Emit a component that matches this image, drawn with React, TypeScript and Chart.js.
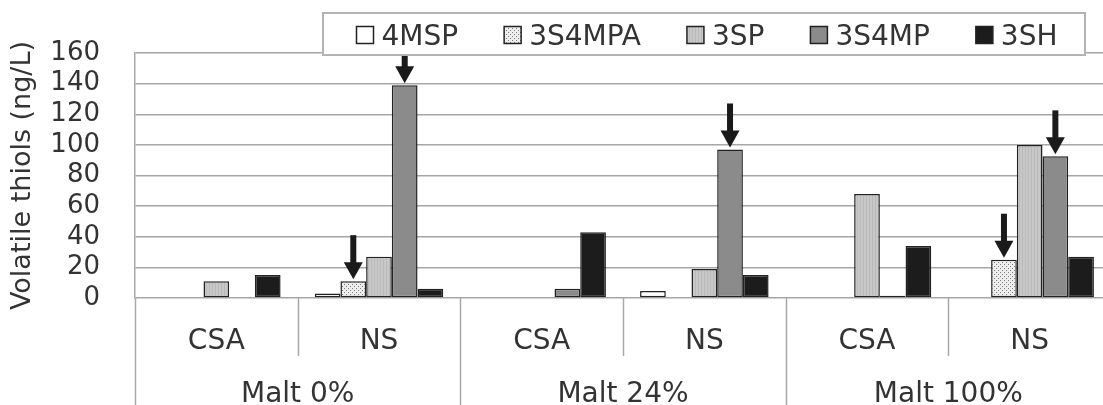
import React, { useEffect, useRef } from 'react';
import { Chart, registerables } from 'chart.js';

Chart.register(...registerables);

// ---- data ----
const categories = ['CSA', 'NS', 'CSA', 'NS', 'CSA', 'NS'];
const groups = ['Malt 0%', 'Malt 24%', 'Malt 100%'];
const seriesNames = ['4MSP', '3S4MPA', '3SP', '3S4MP', '3SH'];
const values4MSP = [0, 3, 0, 4.5, 0, 0];
const values3S4MPA = [0, 11, 0, 0, 0, 25];
const values3SP = [11, 27, 0, 19, 68, 100];
const values3S4MP = [0, 139, 6, 97, 1.5, 92.5];
const values3SH = [15, 6, 43, 15, 34, 27];
const yMin = 0;
const yMax = 160;
const yStep = 20;
const yTitle = 'Volatile thiols (ng/L)';
// arrows: dataset index and category index of the pointed bar
const arrowSeries = [1, 3, 3, 1, 3];
const arrowCategories = [1, 1, 3, 5, 5];

const FONT = '"DejaVu Sans", Verdana, sans-serif';
const TEXT = '#333333';

function makePattern(kind: string): CanvasPattern | string {
  const c = document.createElement('canvas');
  const g = c.getContext('2d');
  if (!g) return '#cccccc';
  if (kind === 'dots') {
    c.width = 4; c.height = 4;
    g.fillStyle = '#eeeeee';
    g.fillRect(0, 0, 4, 4);
    g.fillStyle = '#7a7a7a';
    g.fillRect(0, 0, 1, 1);
    g.fillRect(2, 2, 1, 1);
  } else {
    c.width = 3; c.height = 1;
    g.fillStyle = '#c8c8c8';
    g.fillRect(0, 0, 3, 1);
    g.fillStyle = '#b9b9b9';
    g.fillRect(2, 0, 1, 1);
  }
  return g.createPattern(c, 'repeat') || '#cccccc';
}

export default function App() {
  const ref = useRef<HTMLCanvasElement | null>(null);

  useEffect(() => {
    if (!ref.current) return;
    const fills: (string | CanvasPattern)[] = [
      '#ffffff',
      makePattern('dots'),
      makePattern('lines'),
      '#8b8b8b',
      '#1c1c1c',
    ];
    const seriesValues = [values4MSP, values3S4MPA, values3SP, values3S4MP, values3SH];

    const decor = {
      id: 'decor',
      afterDraw(chart: any) {
        const ctx = chart.ctx as CanvasRenderingContext2D;
        const xs = chart.scales.x;
        const x2 = chart.scales.x2;
        const area = chart.chartArea;
        ctx.save();
        // separators in the category axis area
        const n = categories.length;
        const perGroup = n / groups.length;
        const w = xs.getPixelForValue(1) - xs.getPixelForValue(0);
        const first = xs.getPixelForValue(0) - w / 2;
        ctx.strokeStyle = '#a8a8a8';
        ctx.lineWidth = 1.5;
        for (let i = 0; i <= n; i++) {
          const bx = Math.round(first + i * w) + 0.5;
          const bottom = i % perGroup === 0 ? x2.bottom : xs.bottom;
          ctx.beginPath();
          ctx.moveTo(bx, area.bottom);
          ctx.lineTo(bx, bottom);
          ctx.stroke();
        }
        // arrows
        ctx.fillStyle = '#1a1a1a';
        for (let k = 0; k < arrowSeries.length; k++) {
          const el = chart.getDatasetMeta(arrowSeries[k]).data[arrowCategories[k]];
          const x = el.x;
          const tip = el.y - 2;
          const headH = 17, headW = 19, shaftW = 6, len = 44;
          ctx.fillRect(x - shaftW / 2, tip - len, shaftW, len - headH + 1);
          ctx.beginPath();
          ctx.moveTo(x - headW / 2, tip - headH);
          ctx.lineTo(x + headW / 2, tip - headH);
          ctx.lineTo(x, tip);
          ctx.closePath();
          ctx.fill();
        }
        // legend box
        const boxL = 323, boxR = 1085, boxT = 13, boxB = 55;
        ctx.fillStyle = '#ffffff';
        ctx.fillRect(boxL, boxT, boxR - boxL, boxB - boxT);
        ctx.strokeStyle = '#b4b4b4';
        ctx.lineWidth = 2;
        ctx.strokeRect(boxL, boxT, boxR - boxL, boxB - boxT);
        ctx.font = '28px ' + FONT;
        const sw = 17, gapText = 8, gapItem = 46;
        const widths = seriesNames.map((s) => sw + gapText + ctx.measureText(s).width);
        const total = widths.reduce((a, b) => a + b, 0) + gapItem * (seriesNames.length - 1);
        let cx = (boxL + boxR) / 2 + 3 - total / 2;
        const midY = (boxT + boxB) / 2 + 1;
        for (let i = 0; i < seriesNames.length; i++) {
          ctx.fillStyle = fills[i] as any;
          ctx.fillRect(cx, midY - sw / 2, sw, sw);
          ctx.strokeStyle = '#222222';
          ctx.lineWidth = 1.5;
          ctx.strokeRect(cx, midY - sw / 2, sw, sw);
          ctx.fillStyle = TEXT;
          ctx.textBaseline = 'alphabetic';
          ctx.textAlign = 'left';
          ctx.fillText(seriesNames[i], cx + sw + gapText, midY + 10);
          cx += widths[i] + gapItem;
        }
        ctx.restore();
      },
    };

    const chart = new Chart(ref.current, {
      type: 'bar',
      data: {
        labels: categories,
        datasets: seriesNames.map((name, i) => ({
          label: name,
          data: seriesValues[i],
          backgroundColor: fills[i] as any,
          borderColor: '#222222',
          borderWidth: 1.5,
          borderSkipped: false,
          xAxisID: 'x',
          yAxisID: 'y',
        })),
      },
      options: {
        animation: false,
        responsive: false,
        layout: { padding: { top: 53, left: 0, right: 0, bottom: 0 } },
        datasets: { bar: { categoryPercentage: 0.79, barPercentage: 1.0 } },
        plugins: { legend: { display: false }, tooltip: { enabled: false } },
        scales: {
          x: {
            type: 'category',
            position: 'bottom',
            weight: 0,
            offset: true,
            grid: { display: false },
            border: { display: false },
            ticks: { font: { family: FONT, size: 28 }, color: TEXT, padding: 19, maxRotation: 0, autoSkip: false },
            afterFit: (s: any) => { s.height = 58; },
          },
          x2: {
            type: 'category',
            position: 'bottom',
            weight: 1,
            labels: groups,
            offset: true,
            grid: { display: false },
            border: { display: false },
            ticks: { font: { family: FONT, size: 28 }, color: TEXT, padding: 14, maxRotation: 0, autoSkip: false },
            afterFit: (s: any) => { s.height = 60; },
          },
          y: {
            min: yMin,
            max: yMax,
            ticks: { stepSize: yStep, autoSkip: false, font: { family: FONT, size: 26 }, color: TEXT, padding: 35 },
            grid: { color: '#a6a6a6', lineWidth: 1.5, drawTicks: false },
            border: { display: true, color: '#a8a8a8', width: 1.5 },
            title: {
              display: true,
              text: yTitle,
              font: { family: FONT, size: 27 },
              color: TEXT,
              padding: { top: 7, bottom: 0 },
            },
            afterFit: (s: any) => { s.width = 135; },
          },
        },
      } as any,
      plugins: [decor],
    });
    return () => chart.destroy();
  }, []);

  return (
    <div style={{ position: 'absolute', left: 0, top: 0, width: 1103, height: 405, overflow: 'hidden', background: '#ffffff' }}>
      <canvas ref={ref} width={1111} height={416} style={{ display: 'block' }} />
    </div>
  );
}
